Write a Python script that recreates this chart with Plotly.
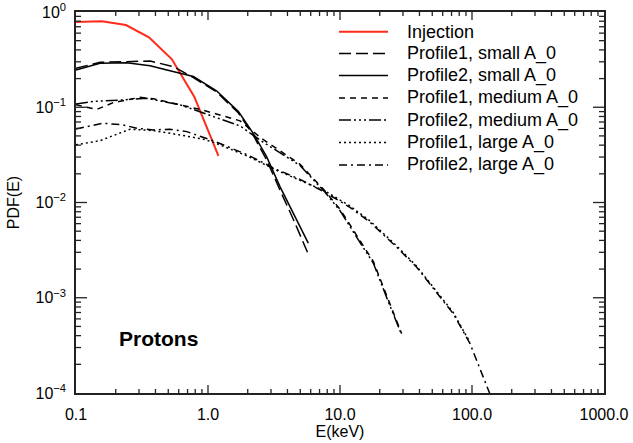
import plotly.graph_objects as go

# ---------------- data ----------------
E_inj = [0.1, 0.157, 0.239, 0.357, 0.531, 0.787, 1.2]
pdf_inj = [0.785, 0.80, 0.73, 0.543, 0.321, 0.129, 0.0308]

E_small = [0.1, 0.152, 0.242, 0.364, 0.515, 0.775, 1.16, 1.70, 2.20, 2.78, 3.51, 4.40, 5.75]
pdf_p2_small = [0.246, 0.290, 0.294, 0.273, 0.242, 0.210, 0.149, 0.090, 0.0533, 0.0303, 0.0147, 0.00778, 0.00374]
E_p1_small = [0.1, 0.152, 0.242, 0.364, 0.546, 0.775, 1.16, 1.70, 2.20, 2.78, 3.51, 4.40, 5.80]
pdf_p1_small = [0.256, 0.297, 0.301, 0.306, 0.267, 0.205, 0.145, 0.087, 0.051, 0.028, 0.0135, 0.0068, 0.0028]

E_p1_med = [0.1, 0.144, 0.192, 0.305, 0.386, 0.614, 0.869, 1.23, 1.75, 2.55, 4.98, 7.7, 10.0, 13.4, 17.9, 22.6, 29.3]
pdf_p1_med = [0.106, 0.095, 0.112, 0.127, 0.123, 0.107, 0.095, 0.083, 0.072, 0.047, 0.0252, 0.0132, 0.0085, 0.0045, 0.0024, 0.00105, 0.00042]
E_p2_med = [0.1, 0.135, 0.216, 0.343, 0.614, 0.92, 1.75, 2.55, 4.98, 7.7, 10.0, 13.4, 17.9, 22.6, 29.3]
pdf_p2_med = [0.108, 0.115, 0.119, 0.124, 0.106, 0.0865, 0.0637, 0.044, 0.0245, 0.0128, 0.0082, 0.0043, 0.0023, 0.00100, 0.00041]

E_p1_large = [0.1, 0.152, 0.257, 0.386, 0.614, 0.92, 1.09, 1.96, 3.31, 4.98, 7.7, 11.9, 16.9, 26.9, 38.0, 57.3, 72.1, 96.6]
pdf_p1_large = [0.0403, 0.0446, 0.0588, 0.0569, 0.0512, 0.0462, 0.043, 0.031, 0.0218, 0.0172, 0.0132, 0.0092, 0.0064, 0.0035, 0.00215, 0.00105, 0.0007, 0.00034]
E_p2_large = [0.1, 0.161, 0.228, 0.288, 0.386, 0.515, 0.69, 1.09, 1.96, 3.31, 4.98, 7.7, 11.9, 16.9, 26.9, 38.0, 57.3, 72.1, 96.6, 108.6, 133.0, 140.0]
pdf_p2_large = [0.0592, 0.068, 0.0652, 0.0602, 0.0578, 0.0588, 0.0555, 0.0445, 0.032, 0.0222, 0.0175, 0.0128, 0.0089, 0.0062, 0.0034, 0.0021, 0.00102, 0.00068, 0.00033, 0.00022, 0.000108, 0.00009]

x_ticks = [0.1, 1, 10, 100, 1000]
x_labels = ["0.1", "1.0", "10.0", "100.0", "1000.0"]
y_ticks = [1e-4, 1e-3, 1e-2, 1e-1, 1]
y_labels = ["10<sup>\u22124</sup>", "10<sup>\u22123</sup>", "10<sup>\u22122</sup>", "10<sup>\u22121</sup>", "10<sup>0</sup>"]
x_minor = [m * 10 ** k for k in range(-1, 3) for m in range(2, 10)]
y_minor = [m * 10 ** k for k in range(-4, 0) for m in range(2, 10)]

series = [
    ("Injection", E_inj, pdf_inj, "#ff2a1a", "solid", 2),
    ("Profile1, small A_0", E_p1_small, pdf_p1_small, "black", "12px,5px", 1.5),
    ("Profile2, small A_0", E_small, pdf_p2_small, "black", "solid", 1.5),
    ("Profile1, medium A_0", E_p1_med, pdf_p1_med, "black", "6px,5px", 1.5),
    ("Profile2, medium A_0", E_p2_med, pdf_p2_med, "black", "12px,3px,2px,3px,2px,3px,2px,3px", 1.5),
    ("Profile1, large A_0", E_p1_large, pdf_p1_large, "black", "2px,3px", 1.5),
    ("Profile2, large A_0", E_p2_large, pdf_p2_large, "black", "8px,4px,2px,4px", 1.5),
]

FONT = "Liberation Sans"
W, H = 633, 443
ML, MR, MT, MB = 76, 29, 12, 50
PW, PH = W - ML - MR, H - MT - MB

fig = go.Figure()
for name, xs, ys, col, dash, w in series:
    fig.add_trace(go.Scatter(x=xs, y=ys, mode="lines", name=name,
                             line=dict(color=col, dash=dash, width=w),
                             showlegend=False))

# manual legend (IDL style); page pixels converted to paper units
def px(x):
    return (x - ML) / PW
def py(y):
    return (MT + PH - y) / PH

row_y = [31.7, 53.5, 75.5, 98.0, 120.0, 142.5, 165.0]
shapes = []
annotations = []
for (name, xs, ys, col, dash, w), ry in zip(series, row_y):
    shapes.append(dict(type="line", xref="paper", yref="paper",
                       x0=px(339), x1=px(388), y0=py(ry), y1=py(ry),
                       line=dict(color=col, dash=dash, width=w)))
    annotations.append(dict(xref="paper", yref="paper", x=px(405), y=py(ry),
                            text=name, showarrow=False, xanchor="left", yanchor="middle",
                            font=dict(family=FONT, size=18, color="black")))

annotations.append(dict(xref="paper", yref="paper", x=px(158), y=py(338),
                        text="<b>Protons</b>", showarrow=False, xanchor="center", yanchor="middle",
                        font=dict(family=FONT, size=21, color="black")))

# IDL-style inside tick marks on all four sides (positions in data values)
TICK = dict(color="#222", width=1.3)
def xtick(v, length):
    L = length / PH
    return [dict(type="line", xref="x", yref="paper", x0=v, x1=v, y0=0, y1=L, line=TICK),
            dict(type="line", xref="x", yref="paper", x0=v, x1=v, y0=1, y1=1 - L, line=TICK)]
def ytick(v, length):
    L = length / PW
    return [dict(type="line", xref="paper", yref="y", y0=v, y1=v, x0=0, x1=L, line=TICK),
            dict(type="line", xref="paper", yref="y", y0=v, y1=v, x0=1, x1=1 - L, line=TICK)]
for v in x_ticks[1:-1]:
    shapes += xtick(v, 8)
for v in x_minor:
    shapes += xtick(v, 4)
for v in y_ticks[1:-1]:
    shapes += ytick(v, 11)
for v in y_minor:
    shapes += ytick(v, 5)

tick_font = dict(family=FONT, size=16, color="black")

fig.update_layout(
    xaxis=dict(type="log", range=[-1, 3], tickmode="array", tickvals=x_ticks, ticktext=x_labels,
               showline=True, linecolor="#222", linewidth=1.5, mirror=True, automargin=False,
               ticks="", showgrid=False, zeroline=False, tickfont=tick_font,
               ticklabelstandoff=6,
               title=dict(text="E(keV)", font=tick_font, standoff=1)),
    yaxis=dict(type="log", range=[-4, 0], tickmode="array", tickvals=y_ticks, ticktext=y_labels,
               showline=True, linecolor="#222", linewidth=1.5, mirror=True, automargin=False,
               ticks="", showgrid=False, zeroline=False, tickfont=tick_font,
               ticklabelstandoff=5,
               title=dict(text="PDF(E)", font=tick_font, standoff=12)),
)

fig.update_layout(width=W, height=H, autosize=False,
                  margin=dict(l=ML, r=MR, t=MT, b=MB),
                  paper_bgcolor="white", plot_bgcolor="white",
                  shapes=shapes, annotations=annotations, showlegend=False)

fig.write_html("out.html")
